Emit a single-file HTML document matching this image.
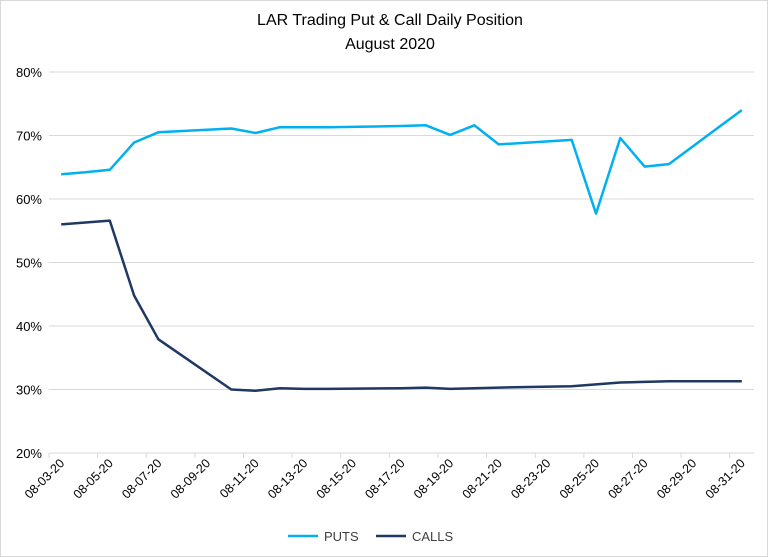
<!DOCTYPE html>
<html><head><meta charset="utf-8"><style>
body{margin:0;background:#fff;}
svg{display:block;font-family:"Liberation Sans",sans-serif;}
</style></head><body>
<svg id="chart" width="768" height="557" viewBox="0 0 768 557">
<rect x="0.5" y="0.5" width="767" height="556" fill="#fff" stroke="#d9d9d9"/>
<text x="390" y="25" text-anchor="middle" font-size="16" fill="#000">LAR Trading Put &amp; Call Daily Position</text>
<text x="390" y="49" text-anchor="middle" font-size="16" fill="#000">August 2020</text>
<g id="grid"></g><g id="yticks"></g><g id="xticks"></g><g id="series"></g>
<g>
<line x1="288" y1="536" x2="318" y2="536" stroke="#00b0f0" stroke-width="2.5"/>
<text x="324" y="541" font-size="13" fill="#404040">PUTS</text>
<line x1="376" y1="536" x2="406" y2="536" stroke="#1f3864" stroke-width="2.5"/>
<text x="412" y="541" font-size="13" fill="#404040">CALLS</text>
</g>
</svg>
<script>
const dayIndex=[0,1,2,3,4,7,8,9,10,11,14,15,16,17,18,21,22,23,24,25,28];
const puts=[63.9,64.2,64.6,68.9,70.5,71.1,70.4,71.3,71.3,71.3,71.5,71.6,70.1,71.6,68.6,69.3,57.7,69.6,65.1,65.5,74.0];
const calls=[56.0,56.3,56.6,44.8,37.9,30.0,29.8,30.2,30.1,30.1,30.2,30.3,30.1,30.2,30.3,30.5,30.8,31.1,31.2,31.3,31.3];
const yTicks=[20,30,40,50,60,70,80];
const xLabels=["08-03-20","08-05-20","08-07-20","08-09-20","08-11-20","08-13-20","08-15-20","08-17-20","08-19-20","08-21-20","08-23-20","08-25-20","08-27-20","08-29-20","08-31-20"];
const NS="http://www.w3.org/2000/svg";
const L=49,R=754,T=72,B=453,ND=29,dw=(R-L)/ND;
const x=d=>L+(d+0.5)*dw;
const y=v=>B-(v-20)/60*(B-T);
function mk(t,a,p){const e=document.createElementNS(NS,t);for(const k in a)e.setAttribute(k,a[k]);p.appendChild(e);return e;}
const grid=document.getElementById('grid'),yt=document.getElementById('yticks'),xt=document.getElementById('xticks'),ser=document.getElementById('series');
yTicks.forEach(v=>{
 const g=mk('line',{x1:L,x2:R,y1:y(v),y2:y(v),stroke:'#d9d9d9','stroke-width':1},grid);
 
 
 const t=mk('text',{x:42,y:y(v)+5,'text-anchor':'end','font-size':13,fill:'#000'},yt);
 t.textContent=v+'%';
 
 
});
for(let i=0;i<=ND;i+=2){
 const tk=mk('line',{x1:L+i*dw,x2:L+i*dw,y1:B,y2:B+5,stroke:'#d9d9d9'},xt);
 
 
}
xLabels.forEach((s,i)=>{
 const cx=x(i*2)+4,cy=B+11;
 const t=mk('text',{x:cx,y:cy,'text-anchor':'end','font-size':12.5,fill:'#000',transform:`rotate(-45 ${cx} ${cy})`},xt);
 t.textContent=s;
 
 
});
function line(vals,col,name){
 const pts=vals.map((v,i)=>x(dayIndex[i]).toFixed(1)+','+y(v).toFixed(1)).join(' ');
 const p=mk('polyline',{points:pts,fill:'none',stroke:col,'stroke-width':2.5,'stroke-linejoin':'round'},ser);
 
 
}
line(puts,'#00b0f0','puts-line');
line(calls,'#1f3864','calls-line');
</script>
</body></html>
